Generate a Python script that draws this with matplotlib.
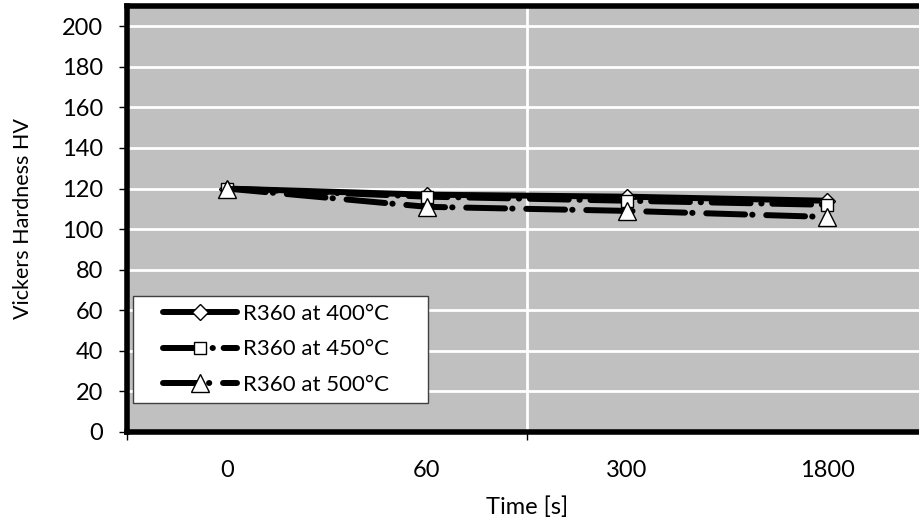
import matplotlib
matplotlib.use("Agg")
from matplotlib import pyplot as plt
from matplotlib.legend_handler import HandlerLine2D

# data
times = ['0', '60', '300', '1800']
hv_400 = [120, 117, 116, 114]
hv_450 = [120, 116, 114, 112]
hv_500 = [120, 111, 109, 106]

plt.rcParams['font.family'] = ['Lato', 'DejaVu Sans']

fig = plt.figure(figsize=(9.2, 5.21), dpi=100)
ax = fig.add_axes([127/920, 89/521, 800/920, 426/521])
ax.set_facecolor('#c0c0c0')

x = range(len(times))
l1, = ax.plot(x, hv_400, color='black', lw=4.3, linestyle='-', solid_capstyle='round',
              marker='D', markersize=8, markerfacecolor='white', markeredgecolor='black',
              markeredgewidth=1, label='R360 at 400°C', zorder=3)
l2, = ax.plot(x, hv_450, color='black', lw=4.3, linestyle=(0, (6.5, 1.8, 0.05, 1.8)),
              dash_capstyle='round',
              marker='s', markersize=9, markerfacecolor='white', markeredgecolor='black',
              markeredgewidth=1, label='R360 at 450°C', zorder=4)
l3, = ax.plot(x, hv_500, color='black', lw=4.3, linestyle=(0, (6.5, 1.2, 0.05, 2.3)),
              dash_capstyle='round',
              marker='^', markersize=13, markerfacecolor='white', markeredgecolor='black',
              markeredgewidth=1, label='R360 at 500°C', zorder=5)

ax.set_xlim(-0.5, 3.5)
ax.set_ylim(0, 210)
ax.set_yticks(range(0, 201, 20))
ax.set_xticks(list(x))
ax.set_xticklabels(times)
ax.set_xticks([-0.5, 1.5, 3.5], minor=True)
ax.tick_params(axis='x', which='major', length=0, pad=20, labelsize=17)
ax.tick_params(axis='x', which='minor', length=6, width=1, direction='out')
ax.tick_params(axis='y', length=6, width=1, direction='out', labelsize=17, pad=11)

ax.grid(axis='y', color='white', lw=2)
ax.grid(axis='x', which='minor', color='white', lw=2)
ax.set_axisbelow(True)

for s in ['left', 'bottom', 'top']:
    ax.spines[s].set_linewidth(4)
    ax.spines[s].set_color('black')
ax.spines['right'].set_visible(False)

ax.set_xlabel('Time [s]', fontsize=17)
ax.set_ylabel('Vickers Hardness HV', fontsize=15.5)
ax.xaxis.set_label_coords(0.5, -0.150)
ax.yaxis.set_label_coords(-0.1175, 0.5)

leg = ax.legend(loc='lower left', bbox_to_anchor=(0.0075, 0.068, 0.369, 0.2), mode='expand',
                fontsize=16, frameon=True, fancybox=False, edgecolor='#404040', framealpha=1,
                borderpad=0.36, handlelength=4.32, handletextpad=0.27, numpoints=1,
                labelspacing=0.7, borderaxespad=0,
                handler_map={l: HandlerLine2D(xpad=1.0) for l in (l1, l2, l3)})
leg.get_frame().set_linewidth(1)

fig.savefig('out.png', dpi=100)
